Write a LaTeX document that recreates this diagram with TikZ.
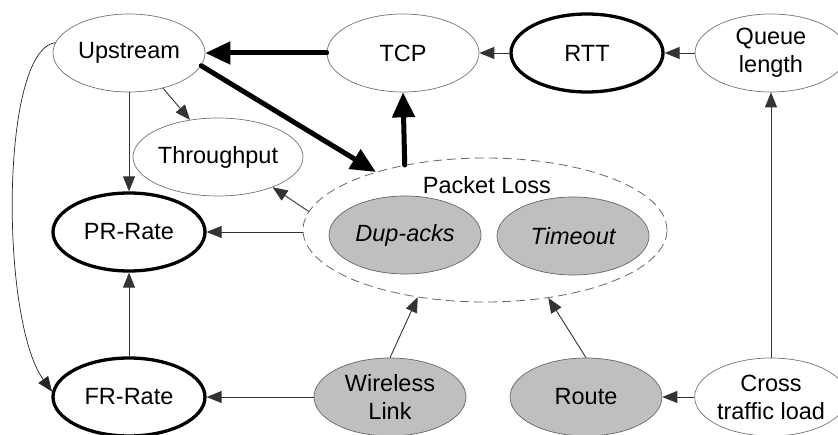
\documentclass[tikz,border=0pt]{standalone}
\usepackage{fontspec}
\setmainfont{Liberation Sans}
\usetikzlibrary{shapes.geometric,arrows.meta}

\begin{document}
\begin{tikzpicture}[x=1pt,y=-1pt,
  every node/.style={font=\fontsize{23.5}{28}\selectfont},
  var/.style={ellipse, draw=black!55, line width=0.7pt, minimum width=152pt,
              minimum height=78pt, inner sep=0pt, align=center},
  key/.style={var, draw=black, line width=3.3pt},
  obs/.style={var, fill=black!25, draw=black!60},
  link/.style={draw=black!80, line width=0.9pt, -{Triangle[length=15pt,width=12pt]}},
  heavy/.style={draw=black, line width=5pt, line cap=round,
                -{Triangle[length=25pt,width=22pt]}},
]
\useasboundingbox (0,0) rectangle (838,435);

% variables
\node[var] (up)  at (129,53)  {Upstream};
\node[var] (tcp) at (403,53)  {TCP};
\node[key] (rtt) at (587,53)  {RTT};
\node[var] (q)   at (771,53)  {Queue\\length};
\node[var] (thr) at (218,157) {Throughput};
\node[key] (pr)  at (129,232) {PR-Rate};
\node[key] (fr)  at (129,397) {FR-Rate};
\node[obs] (wl)  at (390,397) {Wireless\\Link};
\node[obs] (rt)  at (586,397) {Route};
\node[var] (cr)  at (771,397) {Cross\\traffic load};

% packet loss group
\node[ellipse, draw=black!60, line width=0.8pt, dash pattern=on 9pt off 5pt,
      minimum width=364pt, minimum height=144pt, inner sep=0pt] (ploss) at (485,230) {};
\node (pltext) at (487,185) {Packet Loss};
\node[obs, font=\fontsize{23.5}{28}\selectfont\itshape] (dup) at (405,235) {Dup-acks};
\node[obs, font=\fontsize{23.5}{28}\selectfont\itshape] (tmo) at (573,236) {Timeout};

% strong dependencies
\draw[heavy] (tcp.west) -- (up.east);
\draw[heavy] (up.-10) -- (ploss.152);
\draw[heavy] (ploss.141.9) -- (tcp.south);

% ordinary dependencies
\draw[link] (rtt.west) -- (tcp.east);
\draw[link] (q.west) -- (rtt.east);
\draw[link] (up.-46) -- (thr.127);
\draw[link] (up.south) -- (pr.north);
\draw[link] (ploss.174) -- (thr.-29);
\draw[link] (ploss.west |- pr) -- (pr.east);
\draw[link] (fr.north) -- (pr.south);
\draw[link] (wl.west) -- (fr.east);
\draw[link] (wl.north) -- (ploss.225);
\draw[link] (rt.north) -- (ploss.-47);
\draw[link] (cr.west) -- (rt.east);
\draw[link] (cr.north) -- (q.south);
\draw[link, draw=black!85, line width=0.7pt] (up.172) .. controls (0,50) and (0,320) .. (fr.176);
\end{tikzpicture}
\end{document}
